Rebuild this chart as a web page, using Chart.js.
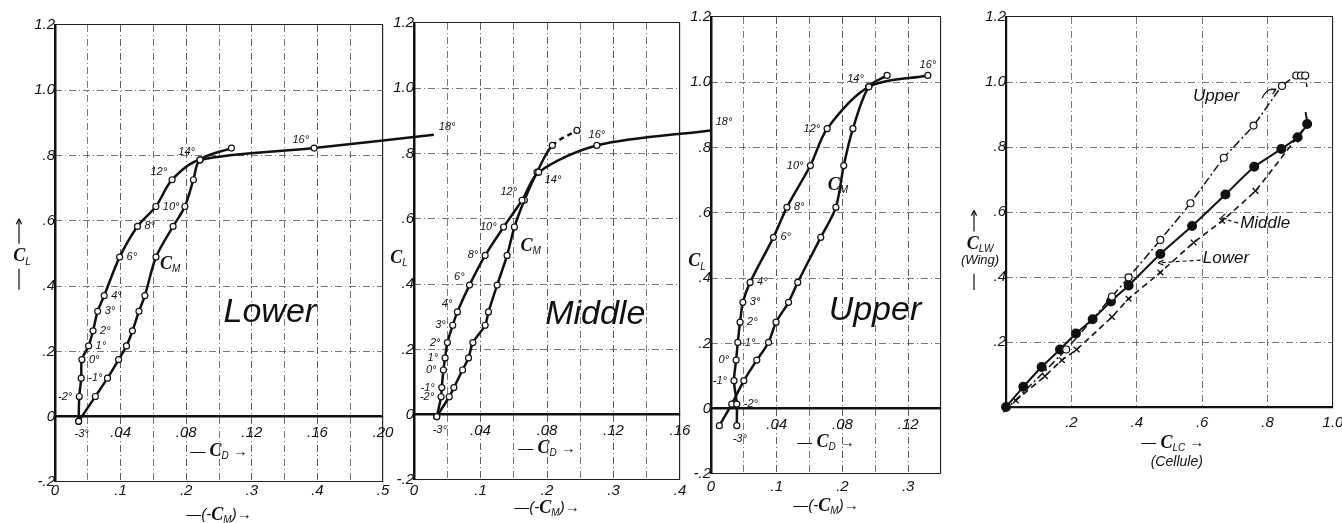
<!DOCTYPE html>
<html>
<head>
<meta charset="utf-8">
<script src="https://cdn.jsdelivr.net/npm/chart.js@4.4.1/dist/chart.umd.min.js"></script>
<style>
  html, body { margin: 0; background: #fff; }
  #wrap { position: relative; width: 1342px; height: 523px; }
  #wrap canvas { position: absolute; left: 0; top: 0; }
</style>
</head>
<body>
<div id="wrap">
  <canvas id="lower" width="1342" height="523"></canvas>
  <canvas id="middle" width="1342" height="523"></canvas>
  <canvas id="upper" width="1342" height="523"></canvas>
  <canvas id="cellule" width="1342" height="523"></canvas>
</div>
<script>
// Lower wing: C_L against C_D and against -C_M, angle of attack in degrees
const lowerAngles = [-3, -2, -1, 0, 1, 2, 3, 4, 6, 8, 10, 12, 14, 16, 18];
const lowerCD = [0.0144, 0.0148, 0.016, 0.0164, 0.0205, 0.0232, 0.026, 0.030, 0.0394, 0.0503, 0.0615, 0.0714, 0.0884, 0.158, 0.231];
const lowerCL = [-0.014, 0.062, 0.118, 0.175, 0.217, 0.263, 0.323, 0.371, 0.489, 0.583, 0.644, 0.726, 0.787, 0.823, 0.864];
const lowerCM = [0.036, 0.0615, 0.080, 0.097, 0.109, 0.118, 0.128, 0.137, 0.154, 0.180, 0.198, 0.211, 0.221, 0.269, null];

// Middle wing
const middleAngles = [-3, -2, -1, 0, 1, 2, 3, 4, 6, 8, 10, 12, 14, 16, 18];
const middleCD = [0.0137, 0.0163, 0.0167, 0.0177, 0.0187, 0.0201, 0.0233, 0.0261, 0.0334, 0.0428, 0.0539, 0.065, 0.075, 0.110, 0.1785];
const middleCL = [-0.006, 0.055, 0.083, 0.137, 0.174, 0.221, 0.274, 0.315, 0.397, 0.488, 0.575, 0.657, 0.743, 0.825, 0.871];
const middleCM = [0.034, 0.053, 0.060, 0.073, 0.082, 0.0885, 0.107, 0.112, 0.125, 0.140, 0.151, 0.166, 0.185, 0.208, 0.245];

// Upper wing
const upperAngles = [-3, -2, -1, 0, 1, 2, 3, 4, 6, 8, 10, 12, 14, 16];
const upperCD = [0.0157, 0.0157, 0.014, 0.0153, 0.0163, 0.0177, 0.0194, 0.0238, 0.038, 0.0462, 0.0605, 0.0707, 0.0961, 0.132];
const upperCL = [-0.052, 0.014, 0.086, 0.149, 0.203, 0.265, 0.326, 0.387, 0.525, 0.617, 0.745, 0.858, 0.986, 1.021];
const upperCM = [0.0127, 0.0316, 0.05, 0.0697, 0.0875, 0.099, 0.118, 0.132, 0.167, 0.19, 0.202, 0.216, 0.240, 0.268];

// Wing lift against cellule lift
const cellUpperX = [-0.008, 0.184, 0.324, 0.375, 0.472, 0.564, 0.666, 0.757, 0.844, 0.888, 0.902, 0.915, 0.92];
const cellUpperY = [-0.016, 0.177, 0.34, 0.399, 0.514, 0.627, 0.767, 0.866, 0.988, 1.02, 1.02, 1.02, 0.985];
const cellMiddleX = [0, 0.053, 0.109, 0.165, 0.214, 0.265, 0.321, 0.375, 0.472, 0.569, 0.671, 0.759, 0.842, 0.892, 0.921, 0.916];
const cellMiddleY = [0, 0.062, 0.123, 0.177, 0.226, 0.27, 0.325, 0.374, 0.471, 0.557, 0.654, 0.739, 0.794, 0.83, 0.871, 0.907];
const cellLowerX = [0.03, 0.119, 0.171, 0.216, 0.324, 0.375, 0.472, 0.574, 0.661, 0.763, 0.885, 0.921];
const cellLowerY = [0.02, 0.095, 0.144, 0.177, 0.277, 0.333, 0.414, 0.506, 0.573, 0.665, 0.823, 0.871];

// where each angle label sits next to its point
const lowerSides = ['b', 'l', 'r', 'r', 'r', 'r', 'r', 'r', 'r', 'r', 'r', 'tl', 'tl', 'tl', 'tr'];
const middleSides = ['b', 'l', 'l', 'l', 'l', 'l', 'l', 'tl', 'tl', 'l', 'l', 'tl', 'br', 't', 'tr'];
const upperSides = ['b', 'r', 'l', 'l', 'r', 'r', 'r', 'r', 'r', 'r', 'l', 'l', 'tl', 't'];

const W = 1342, H = 523;
const INK = '#111';
const GRID = '#555';
const DASH = [7, 3, 1, 3];
const FAM = '"Liberation Sans", "DejaVu Sans", sans-serif';
const tickFont = { family: FAM, style: 'italic', size: 15 };
const F_TXT = 'italic 15px ' + FAM;
const F_C = 'italic bold 18px "Liberation Serif", serif';
const F_SUB = 'italic 10px ' + FAM;
const SIDE = { r: [7, 0, 'left'], l: [-7, 0, 'right'], t: [0, -10, 'center'], b: [3, 13, 'center'],
               tl: [-5, -8, 'right'], tr: [5, -8, 'left'], br: [6, 8, 'left'] };

function fmt(v, d) {
  const r = Number(v.toFixed(d));
  if (r === 0) return '0';
  let s = Math.abs(r).toFixed(d);
  if (Math.abs(r) < 1) s = s.replace(/^0/, '');
  return (r < 0 ? '-' : '') + s;
}
const cdLabel = v => { const k = Math.round(v * 50); return k > 0 && k % 2 === 0 ? fmt(v, 2) : ''; };
const cmLabel = v => { const k = Math.round(v * 100); return k % 10 === 0 ? fmt(v, 1) : ''; };
const clLabel = v => fmt(v, 1);
const cellLabel = v => (Math.abs(v) < 1e-6 ? '' : fmt(v, 1));

// every axis is pinned to a value, so none takes room: the padding alone places the plot area
function zeroSize(s) {
  if (s.isHorizontal()) s.height = 0; else s.width = 0;
  s.paddingLeft = s.paddingRight = s.paddingTop = s.paddingBottom = 0;
}

function linScale(min, max, step, label, border, extra, pad) {
  const isEdge = c => !!c.tick && (Math.abs(c.tick.value - min) < 1e-6 || Math.abs(c.tick.value - max) < 1e-6);
  return Object.assign({
    type: 'linear', min: min, max: max, afterFit: zeroSize,
    ticks: { stepSize: step, autoSkip: false, maxRotation: 0, padding: pad === undefined ? 7 : pad,
             color: INK, font: tickFont, callback: label },
    grid: { drawTicks: false, color: c => isEdge(c) ? '#222' : GRID, lineWidth: c => isEdge(c) ? 1.1 : 0.8 },
    border: { display: border > 0, width: border, color: INK, dash: c => isEdge(c) ? [] : DASH }
  }, extra || {});
}

function pts(xs, ys) {
  return xs.map((x, i) => ({ x: x, y: ys[i] })).filter(p => p.x !== null);
}

function curve(data, axis, extra) {
  return Object.assign({
    data: data, xAxisID: axis, yAxisID: 'y', showLine: true,
    borderColor: INK, borderWidth: 2.5, tension: 0.3,
    pointRadius: 3, pointBackgroundColor: '#fff', pointBorderColor: INK, pointBorderWidth: 1.2,
    clip: false
  }, extra || {});
}

function rich(ctx, x, y, parts, align) {
  let w = 0;
  parts.forEach(p => { ctx.font = p[1]; w += ctx.measureText(p[0]).width; });
  let cx = align === 'center' ? x - w / 2 : align === 'right' ? x - w : x;
  ctx.textAlign = 'left';
  ctx.textBaseline = 'middle';
  parts.forEach(p => { ctx.font = p[1]; ctx.fillText(p[0], cx, y + (p[2] || 0)); cx += ctx.measureText(p[0]).width; });
}

function arrowHead(ctx, x, y, ang) {
  ctx.beginPath();
  ctx.moveTo(x, y);
  ctx.lineTo(x - 6 * Math.cos(ang - 0.45), y - 6 * Math.sin(ang - 0.45));
  ctx.moveTo(x, y);
  ctx.lineTo(x - 6 * Math.cos(ang + 0.45), y - 6 * Math.sin(ang + 0.45));
  ctx.stroke();
}

const notes = fn => ({
  id: 'notes',
  afterDatasetsDraw(chart) {
    const ctx = chart.ctx;
    ctx.save();
    ctx.fillStyle = INK;
    ctx.strokeStyle = INK;
    ctx.lineWidth = 1.2;
    fn(chart, ctx);
    ctx.restore();
  }
});

function wingNotes(w) {
  return (chart, ctx) => {
    const sx = chart.scales.x, sy = chart.scales.y, a = chart.chartArea;
    ctx.font = 'italic 11px ' + FAM;
    ctx.textBaseline = 'middle';
    w.angles.forEach((ang, i) => {
      const o = SIDE[w.sides[i]];
      ctx.textAlign = o[2];
      ctx.fillText(ang + '°', sx.getPixelForValue(w.cd[i]) + o[0], sy.getPixelForValue(w.cl[i]) + o[1]);
    });
    ctx.font = 'italic 34px ' + FAM;
    ctx.textAlign = 'center';
    ctx.fillText(w.name, sx.getPixelForValue(w.namePos[0]), sy.getPixelForValue(w.namePos[1]));
    rich(ctx, sx.getPixelForValue(w.cmPos[0]), sy.getPixelForValue(w.cmPos[1]), [['C', F_C], ['M', F_SUB, 5]], 'left');

    const tx = a.left + w.clTitle[0], ty = sy.getPixelForValue(w.clTitle[1]);
    rich(ctx, tx, ty, [['C', F_C], ['L', F_SUB, 5]], 'center');
    if (w.arrows) {
      ctx.beginPath();
      ctx.moveTo(tx - 3, ty - 13); ctx.lineTo(tx - 3, ty - 37);
      ctx.moveTo(tx - 3, ty + 12); ctx.lineTo(tx - 3, ty + 33);
      ctx.stroke();
      arrowHead(ctx, tx - 3, ty - 38, -Math.PI / 2);
    }
    const mid = (a.left + a.right) / 2;
    rich(ctx, mid, sy.getPixelForValue(0) + w.titleGap[0], [['— ', F_TXT], ['C', F_C], ['D', F_SUB, 5], [' →', F_TXT]], 'center');
    rich(ctx, mid, a.bottom + w.titleGap[1], [['—(-', F_TXT], ['C', F_C], ['M', F_SUB, 5], [')→', F_TXT]], 'center');
  };
}

function wingPanel(id, box, cdMax, cmMax, w) {
  const xm = linScale(0, cmMax, 0.1, cmLabel, 0, { position: { y: -0.2 } }, w.cmPad);
  xm.ticks.includeBounds = false;
  return new Chart(document.getElementById(id), {
    type: 'scatter',
    data: {
      datasets: [
        curve(pts(w.cd, w.cl), 'x'),
        curve(pts(w.cm, w.cl), 'xm', w.cmExtra)
      ]
    },
    options: {
      responsive: false, animation: false, devicePixelRatio: 1,
      layout: { padding: { left: box[0], top: box[1], right: W - box[2], bottom: H - box[3] } },
      plugins: { legend: { display: false }, tooltip: { enabled: false } },
      scales: {
        x: linScale(0, cdMax, 0.02, cdLabel, 2.5, { position: { y: 0 } }),
        xm: xm,
        y: linScale(-0.2, 1.2, 0.2, clLabel, 2.5, { position: { x: 0 } })
      }
    },
    plugins: [notes(wingNotes(w))]
  });
}

wingPanel('lower', [55, 25, 383, 482], 0.20, 0.5, {
  angles: lowerAngles, cd: lowerCD, cl: lowerCL, cm: lowerCM, sides: lowerSides,
  name: 'Lower', namePos: [0.131, 0.319], cmPos: [0.064, 0.466], clTitle: [-33, 0.49], arrows: true,
  titleGap: [35, 33], cmPad: 0
});
wingPanel('middle', [414, 23, 680, 480], 0.16, 0.4, {
  angles: middleAngles, cd: middleCD, cl: middleCL, cm: middleCM, sides: middleSides,
  name: 'Middle', namePos: [0.109, 0.306], cmPos: [0.064, 0.515], clTitle: [-15, 0.48], arrows: false,
  titleGap: [34, 28], cmPad: 2,
  cmExtra: { segment: { borderDash: c => c.p1DataIndex === middleCM.length - 1 ? [5, 4] : undefined } }
});
wingPanel('upper', [711, 17, 941, 474], 0.14, 0.35, {
  angles: upperAngles, cd: upperCD, cl: upperCL, cm: upperCM, sides: upperSides,
  name: 'Upper', namePos: [0.0998, 0.30], cmPos: [0.071, 0.685], clTitle: [-14, 0.45], arrows: false,
  titleGap: [34, 32], cmPad: 4
});

// the cellule panel: wing lift against cellule lift
const lastOff = (n, r) => c => (c.dataIndex === n - 1 ? 0 : r);
new Chart(document.getElementById('cellule'), {
  type: 'scatter',
  data: {
    datasets: [
      { data: pts(cellUpperX, cellUpperY), showLine: true, borderColor: INK, borderWidth: 1.5, borderDash: [8, 3, 2, 3],
        tension: 0.15, pointRadius: lastOff(cellUpperX.length, 3.5), pointBackgroundColor: '#fff',
        pointBorderColor: INK, pointBorderWidth: 1.2, clip: false },
      { data: pts(cellMiddleX, cellMiddleY), showLine: true, borderColor: INK, borderWidth: 2,
        tension: 0.15, pointRadius: lastOff(cellMiddleX.length, 4), pointBackgroundColor: INK,
        pointBorderColor: INK, clip: false },
      { data: pts(cellLowerX, cellLowerY), showLine: true, borderColor: INK, borderWidth: 1.6, borderDash: [6, 4],
        tension: 0.1, pointStyle: 'crossRot', pointRadius: 4, pointBorderColor: INK, pointBorderWidth: 1.4, clip: false }
    ]
  },
  options: {
    responsive: false, animation: false, devicePixelRatio: 1,
    layout: { padding: { left: 1006, top: 17, right: W - 1333, bottom: H - 407 } },
    plugins: { legend: { display: false }, tooltip: { enabled: false } },
    scales: {
      x: linScale(0, 1.0, 0.2, cellLabel, 2.2, { position: { y: 0 } }),
      y: linScale(0, 1.2, 0.2, cellLabel, 2.2, { position: { x: 0 } })
    }
  },
  plugins: [notes((chart, ctx) => {
    const sx = chart.scales.x, sy = chart.scales.y, a = chart.chartArea;
    const px = v => sx.getPixelForValue(v), py = v => sy.getPixelForValue(v);
    ctx.font = 'italic 17px ' + FAM;
    ctx.textBaseline = 'middle';
    ctx.textAlign = 'left';
    ctx.fillText('Upper', px(0.572), py(0.955));
    ctx.fillText('Middle', px(0.716), py(0.566));
    ctx.fillText('Lower', px(0.602), py(0.458));
    // pointers from the names to the curves
    ctx.beginPath();
    ctx.moveTo(px(0.783), py(0.95));
    ctx.quadraticCurveTo(px(0.80), py(0.985), px(0.823), py(0.975));
    ctx.stroke();
    arrowHead(ctx, px(0.826), py(0.978), -0.5);
    ctx.setLineDash([4, 3]);
    ctx.beginPath();
    ctx.moveTo(px(0.710), py(0.566)); ctx.lineTo(px(0.662), py(0.580));
    ctx.moveTo(px(0.595), py(0.452)); ctx.lineTo(px(0.470), py(0.444));
    ctx.stroke();
    ctx.setLineDash([]);
    arrowHead(ctx, px(0.657), py(0.582), Math.PI - 0.28);
    arrowHead(ctx, px(0.465), py(0.444), Math.PI);
    // axis titles
    const tx = a.left - 26;
    rich(ctx, tx, py(0.50), [['C', F_C], ['LW', F_SUB, 5]], 'center');
    ctx.font = 'italic 13px ' + FAM;
    ctx.textAlign = 'center';
    ctx.fillText('(Wing)', tx, py(0.45));
    ctx.beginPath();
    ctx.moveTo(tx - 6, py(0.54)); ctx.lineTo(tx - 6, py(0.60));
    ctx.moveTo(tx - 6, py(0.41)); ctx.lineTo(tx - 6, py(0.36));
    ctx.stroke();
    arrowHead(ctx, tx - 6, py(0.605), -Math.PI / 2);
    const mid = px(0.51);
    rich(ctx, mid, a.bottom + 36, [['— ', F_TXT], ['C', F_C], ['LC', F_SUB, 5], [' →', F_TXT]], 'center');
    ctx.font = 'italic 14px ' + FAM;
    ctx.textAlign = 'center';
    ctx.fillText('(Cellule)', mid + 4, a.bottom + 55);
  })]
});
</script>
</body>
</html>
